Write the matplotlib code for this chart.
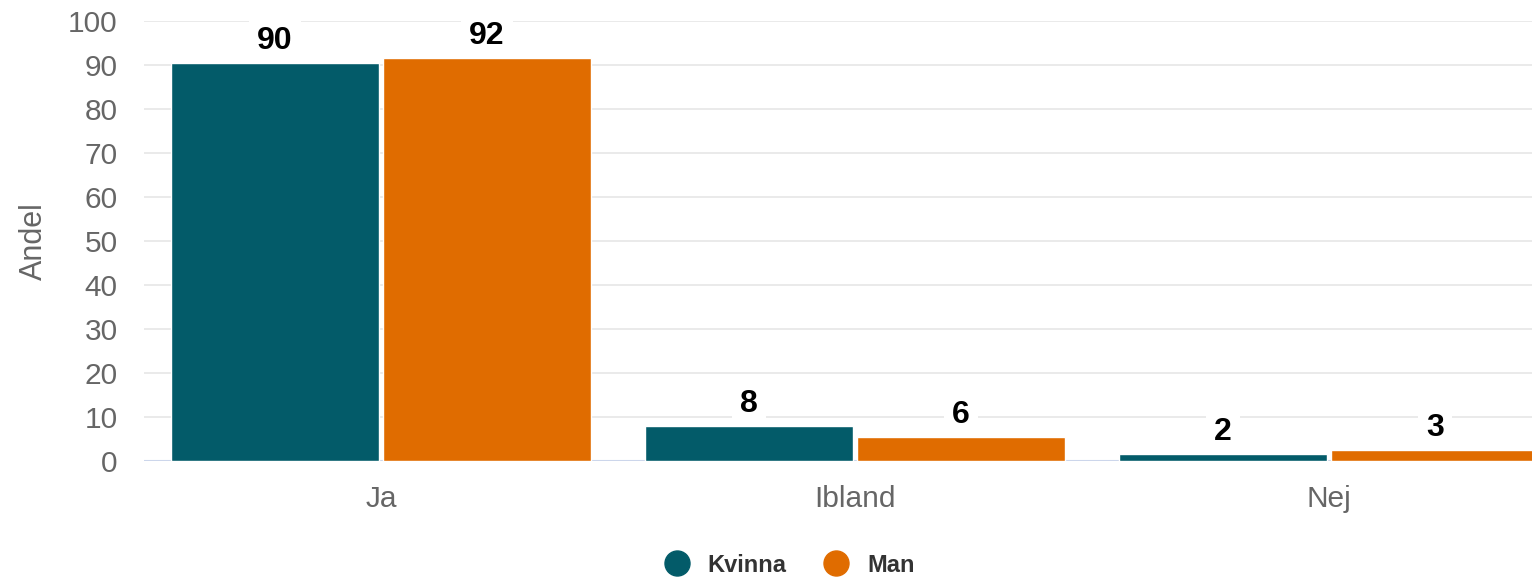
import matplotlib
matplotlib.use("Agg")
import matplotlib.pyplot as plt
from matplotlib.lines import Line2D
import numpy as np

plt.rcParams['font.family'] = ['Liberation Sans', 'DejaVu Sans']

categories = ["Ja", "Ibland", "Nej"]
series_names = ["Kvinna", "Man"]
kvinna = [90.4, 8.0, 1.5]
man = [91.7, 5.5, 2.5]
colors = ["#035b69", "#e06c00"]

fig = plt.figure(figsize=(15.32, 5.8), dpi=100)
# plot area runs a little past the right edge of the figure
ax = fig.add_axes([144 / 1532, 119 / 580, 1422 / 1532, 440 / 580])

x = np.arange(len(categories))
width = 0.439
offset = 0.2236

for vals, off, col in zip([kvinna, man], [-offset, offset], colors):
    bars = ax.bar(x + off, vals, width, color=col, edgecolor="white", linewidth=1, zorder=3)
    for b, v in zip(bars, vals):
        ax.annotate(f"{int(v + 0.5)}", (b.get_x() + b.get_width() / 2, v),
                    xytext=(0, 5), textcoords="offset points",
                    ha="center", va="bottom", fontsize=23, fontweight="bold", color="black",
                    bbox=dict(boxstyle="square,pad=0.25", fc="white", ec="none"), zorder=4)

ax.set_xlim(-0.5, 2.5)
ax.set_ylim(0, 100)
ax.set_yticks(range(0, 101, 10))
ax.set_xticks(x)
ax.set_xticklabels(categories)
ax.grid(axis="y", color="#e6e6e6", linewidth=1.2, zorder=0)
ax.axhline(0, color="#ccd6eb", linewidth=1.5, zorder=2)
for s in ax.spines.values():
    s.set_visible(False)
ax.tick_params(axis="both", length=0, labelsize=21.5, labelcolor="#666666")
ax.tick_params(axis="y", pad=19)
ax.tick_params(axis="x", pad=17)
ax.set_ylabel("Andel", fontsize=22, color="#666666", labelpad=14)

handles = [Line2D([], [], marker="o", linestyle="none", markersize=18,
                  markerfacecolor=c, markeredgecolor=c) for c in colors]
leg = fig.legend(handles, series_names, loc="center", bbox_to_anchor=(784 / 1532, 1 - 565 / 580),
                 ncol=2, frameon=False, handletextpad=0.3, columnspacing=1.1,
                 prop={"size": 17, "weight": "bold"})
for t in leg.get_texts():
    t.set_color("#333333")

fig.savefig("out.png", dpi=100)
